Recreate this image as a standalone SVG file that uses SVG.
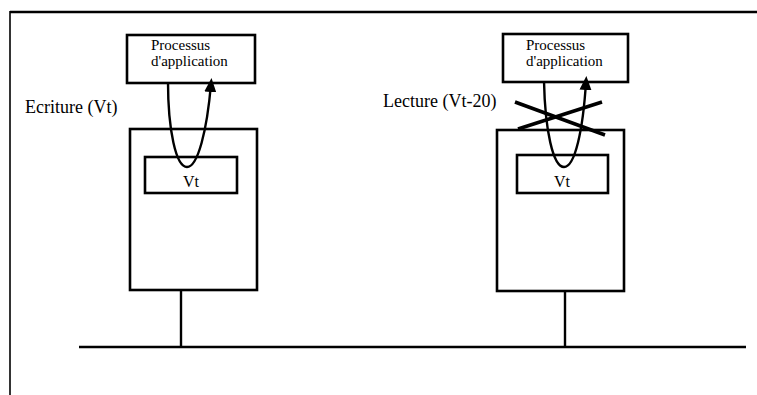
<svg xmlns="http://www.w3.org/2000/svg" width="757" height="395" viewBox="0 0 757 395">
<style>
.box{fill:none;stroke:#000;stroke-width:2.6}
.ln{fill:none;stroke:#000;stroke-width:2.4}
.t{font-family:"Liberation Serif","Times New Roman",serif;fill:#000}
.s{font-size:15px}
.l{font-size:18px}
.v{font-size:16px}
</style>
<defs>
<marker id="ah" markerWidth="14" markerHeight="12" refX="8" refY="6" orient="auto" markerUnits="userSpaceOnUse" viewBox="0 0 14 12">
<path d="M0,0 L14,6 L0,12 Z" fill="#000"/>
</marker>
</defs>
<rect width="757" height="395" fill="#fff"/>
<g id="frame">
<line x1="10" y1="12" x2="757" y2="12" stroke="#000" stroke-width="2.5"/>
<line x1="10" y1="11" x2="10" y2="395" stroke="#000" stroke-width="1.6"/>
</g>
<g id="node-left">
<rect class="box" x="127" y="35" width="128" height="48"/>
<text class="t s" x="151" y="50">Processus</text>
<text class="t s" x="151" y="66">d'application</text>
<rect class="box" x="130" y="129" width="127" height="161"/>
<rect class="box" x="145" y="157" width="92" height="36"/>
<text class="t v" x="191" y="187" text-anchor="middle">Vt</text>
</g>
<g id="node-right">
<rect class="box" x="503" y="34" width="125" height="48"/>
<text class="t s" x="526" y="50">Processus</text>
<text class="t s" x="526" y="66">d'application</text>
<rect class="box" x="497" y="130" width="127" height="161"/>
<rect class="box" x="517" y="155" width="91" height="38"/>
<text class="t v" x="562" y="187" text-anchor="middle">Vt</text>
</g>
<g id="labels">
<text class="t l" x="25" y="113">Ecriture (Vt)</text>
<text class="t l" x="383" y="107">Lecture (Vt-20)</text>
</g>
<g id="connectors">
<path class="ln" d="M168,82 C168,130 176,167 187,167 C198,167 207,130 211,84" marker-end="url(#ah)"/>
<path class="ln" d="M544,81 C545,130 553,167 564,167 C575,167 583,130 586,82" marker-end="url(#ah)"/>
<line x1="515" y1="102" x2="605" y2="135" stroke="#000" stroke-width="3.5"/>
<line x1="518" y1="129" x2="602" y2="102" stroke="#000" stroke-width="3.5"/>
<line x1="181" y1="290" x2="181" y2="347" class="ln"/>
<line x1="565" y1="291" x2="565" y2="347" class="ln"/>
<line x1="79" y1="347" x2="746" y2="347" stroke="#000" stroke-width="2.5"/>
</g>
</svg>
